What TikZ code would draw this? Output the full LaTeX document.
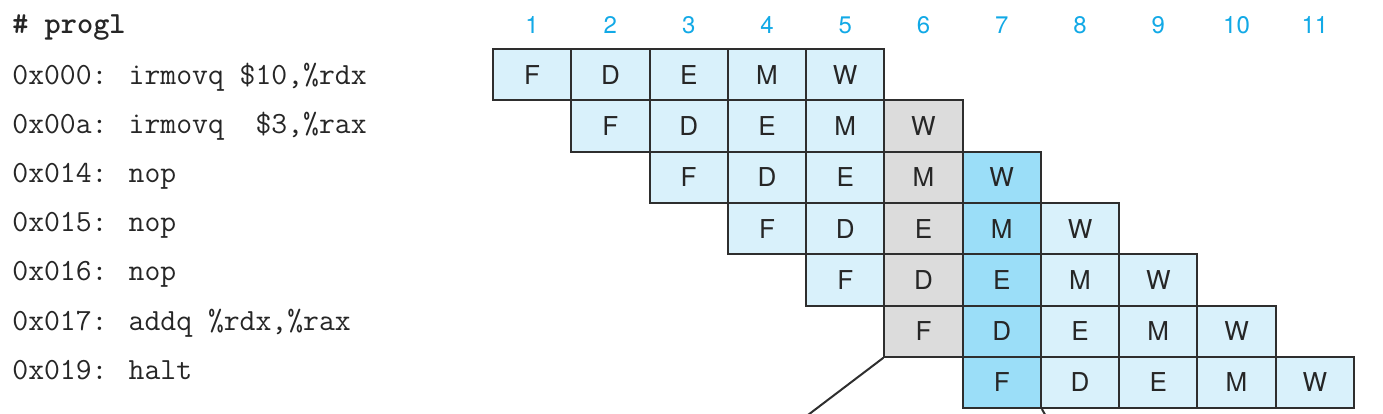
\documentclass[tikz,border=0pt]{standalone}
\usepackage{fontspec}
\newfontfamily\hv{TeX Gyre Heros}
\definecolor{cellblue}{HTML}{D9F1FB}
\definecolor{cellgray}{HTML}{DCDCDC}
\definecolor{cellmid}{HTML}{9BDEF8}
\definecolor{numcyan}{HTML}{12A9E6}
\definecolor{edge}{HTML}{2E2E2E}
\begin{document}
\begin{tikzpicture}[x=0.5pt,y=-0.5pt,
  stagecell/.style={draw=edge,line width=1pt,fill=cellblue,minimum width=39.13pt,minimum height=25.65pt,inner sep=0pt,font=\hv\fontsize{13}{15}\selectfont,text=black!85},
  graycell/.style={stagecell,fill=cellgray},
  midcell/.style={stagecell,fill=cellmid},
  cyclenum/.style={font=\hv\fontsize{12}{14}\selectfont,text=numcyan},
  codeline/.style={anchor=base west,inner sep=0pt,font=\ttfamily\fontsize{15.4}{18}\selectfont,text=black!85},
  leader/.style={draw=edge,line width=1pt}]
\useasboundingbox (0,0) rectangle (1383,413);
% code listing
\node[codeline] (h) at (12,33) {\bfseries \# progl};
\node[codeline] (p1) at (12,84.5) {0x000: irmovq \$10,\%rdx};
\node[codeline] (p2) at (12,133.6) {0x00a: irmovq \ \$3,\%rax};
\node[codeline] (p3) at (12,182.7) {0x014: nop};
\node[codeline] (p4) at (12,231.8) {0x015: nop};
\node[codeline] (p5) at (12,280.9) {0x016: nop};
\node[codeline] (p6) at (12,330) {0x017: addq \%rdx,\%rax};
\node[codeline] (p7) at (12,379) {0x019: halt};
% cycle numbers
\foreach \c in {1,...,11}{
  \node[cyclenum] (n\c) at ({493+78.27*(\c-0.5)},25) {\c};
}
% pipeline cells
\foreach \r in {1,...,7}{
  \foreach \s [count=\k from 0] in {F,D,E,M,W}{
    \pgfmathtruncatemacro{\col}{\r+\k}
    \ifnum\col=6
      \def\sty{graycell}
    \else\ifnum\col=7
      \ifnum\r>2 \def\sty{midcell}\else\def\sty{stagecell}\fi
    \else
      \def\sty{stagecell}
    \fi\fi
    \ifnum\r=1 \def\sty{stagecell}\fi
    \node[\sty] (c-\r-\col) at ({493+78.27*(\col-0.5)},{49+51.3*(\r-0.5)}) {\s};
  }
}
% leader lines running off the bottom
\coordinate (e1) at (804,418);
\coordinate (e2) at (1047,418);
\draw[leader] (c-6-6.south west) -- (e1);
\draw[leader] (c-7-7.south east) -- (e2);
\end{tikzpicture}
\end{document}
